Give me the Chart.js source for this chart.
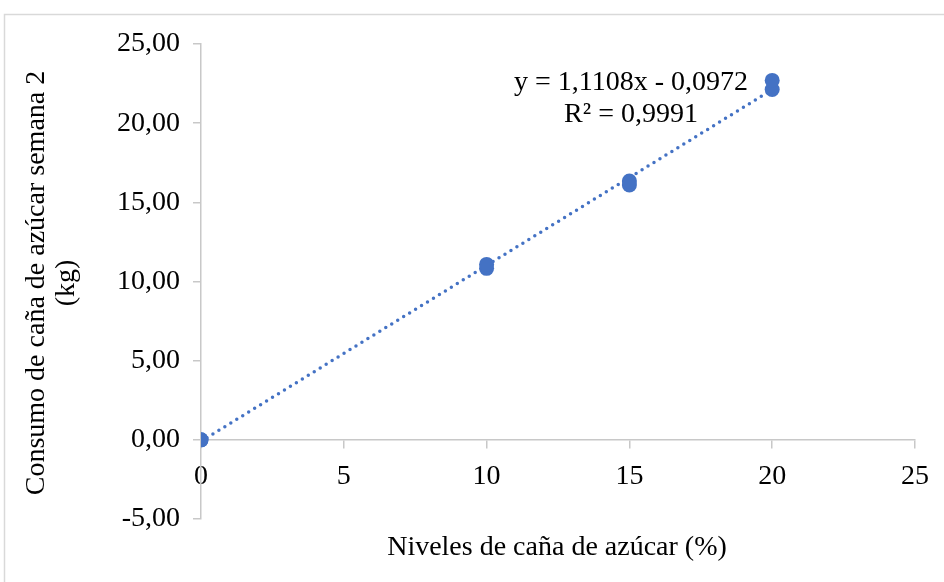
<!DOCTYPE html>
<html>
<head>
<meta charset="utf-8">
<script src="https://cdn.jsdelivr.net/npm/chart.js@4/dist/chart.umd.min.js"></script>
<style>
  html, body { margin: 0; padding: 0; background: #fff; }
  #wrap { width: 944px; height: 582px; position: relative; }
</style>
</head>
<body>
<div id="wrap"><canvas id="consumoChart"></canvas></div>
<script>
// Niveles de caña (%) y consumo medido en la semana 2 (kg)
const niveles = [0, 0, 10, 10, 15, 15, 20, 20];
const consumo = [0, 0, 10.83, 11.08, 16.1, 16.35, 22.13, 22.7];

// Línea de tendencia lineal
const pendiente = 1.1108;
const intercepto = -0.0972;
const tendenciaX = [0, 20];

const xTicks = [0, 5, 10, 15, 20, 25];
const yTicks = [-5, 0, 5, 10, 15, 20, 25];

const ecuacion = 'y = 1,1108x - 0,0972';
const r2 = 'R² = 0,9991';
const tituloX = 'Niveles de caña de azúcar (%)';
const tituloY = ['Consumo de caña de azúcar semana 2', '(kg)'];

const azul = '#4472C4';
const gris = '#C8C8C8';
const fuente = '"Liberation Serif", "Times New Roman", serif';

const puntos = niveles.map((x, i) => ({ x: x, y: consumo[i] }));
const tendencia = tendenciaX.map(x => ({ x: x, y: pendiente * x + intercepto }));

// Textos y marco exterior
const textosPlugin = {
    id: 'textos',
    beforeDraw(chart) {
        const ctx = chart.ctx;
        ctx.save();
        ctx.strokeStyle = '#D9D9D9';
        ctx.lineWidth = 1.5;
        ctx.strokeRect(4.5, 14.5, 960, 600);
        ctx.restore();
    },
    afterDraw(chart) {
        const ctx = chart.ctx;
        ctx.save();
        ctx.fillStyle = '#000';
        ctx.font = '28px ' + fuente;
        ctx.textAlign = 'center';
        ctx.textBaseline = 'alphabetic';

        ctx.fillText(ecuacion, 631, 90);
        ctx.fillText(r2, 631, 122);

        ctx.fillText(tituloX, 557, 555);

        ctx.translate(0, 283);
        ctx.rotate(-Math.PI / 2);
        ctx.fillText(tituloY[0], 0, 44);
        ctx.fillText(tituloY[1], 0, 74);
        ctx.restore();
    }
};

new Chart(document.getElementById('consumoChart'), {
    type: 'scatter',
    data: {
        datasets: [
            {
                label: 'Consumo',
                data: puntos,
                backgroundColor: azul,
                borderColor: azul,
                borderWidth: 0,
                pointRadius: 7.5,
                order: 1
            },
            {
                type: 'line',
                label: 'Lineal',
                data: tendencia,
                borderColor: azul,
                borderWidth: 3.5,
                borderDash: [0, 7],
                borderCapStyle: 'round',
                pointRadius: 0,
                fill: false,
                order: 2
            }
        ]
    },
    options: {
        responsive: true,
        maintainAspectRatio: false,
        animation: false,
        layout: {
            padding: { left: 0, top: 44, right: 29, bottom: 63 }
        },
        plugins: {
            legend: { display: false },
            tooltip: { enabled: false }
        },
        scales: {
            x: {
                type: 'linear',
                position: { y: 0 },
                min: 0,
                max: 25,
                afterBuildTicks: axis => { axis.ticks = xTicks.map(v => ({ value: v })); },
                ticks: {
                    color: '#000',
                    font: { family: fuente, size: 28 },
                    padding: 12,
                    maxRotation: 0
                },
                grid: {
                    drawOnChartArea: false,
                    drawTicks: true,
                    tickLength: 8,
                    color: gris,
                    lineWidth: 1.5
                },
                border: { color: gris, width: 1.5 }
            },
            y: {
                type: 'linear',
                position: 'left',
                min: -5,
                max: 25,
                afterBuildTicks: axis => { axis.ticks = yTicks.map(v => ({ value: v })); },
                afterFit: axis => { axis.width = 201; },
                ticks: {
                    color: '#000',
                    font: { family: fuente, size: 28 },
                    padding: 13,
                    callback: v => v.toFixed(2).replace('.', ',')
                },
                grid: {
                    drawOnChartArea: false,
                    drawTicks: true,
                    tickLength: 8,
                    color: gris,
                    lineWidth: 1.5
                },
                border: { color: gris, width: 1.5 }
            }
        }
    },
    plugins: [textosPlugin]
});
</script>
</body>
</html>
